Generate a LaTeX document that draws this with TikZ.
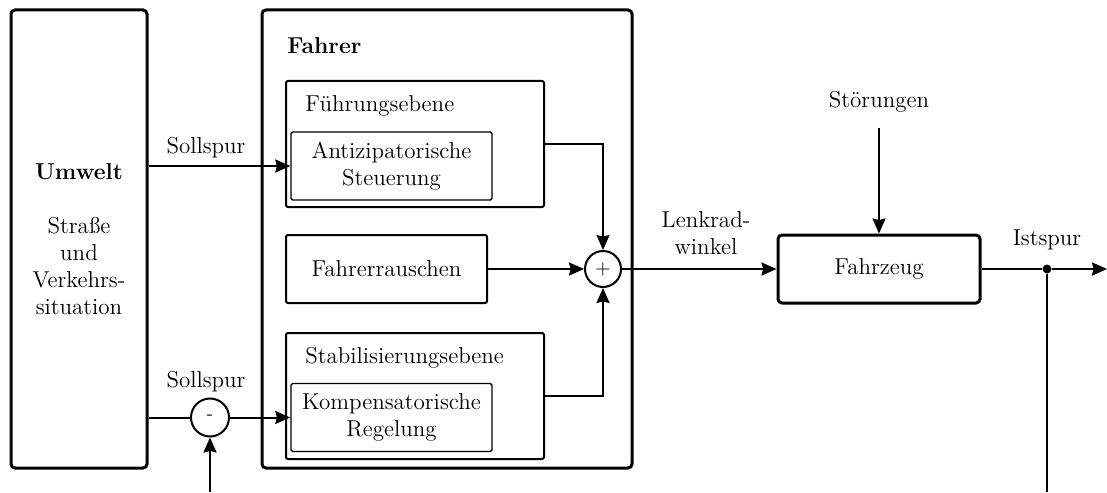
\documentclass[tikz,border=0pt]{standalone}
\usepackage{fontspec}
\usetikzlibrary{arrows.meta}
\begin{document}
\begin{tikzpicture}[x=0.5pt,y=-0.5pt,
  font=\fontsize{11.5}{13.5}\selectfont,
  outerbox/.style={draw, line width=1.5pt, rounded corners=2pt, inner sep=0pt},
  block/.style={draw, line width=1pt, rounded corners=1pt, inner sep=0pt,
    minimum width=100.5pt, minimum height=34pt, align=center},
  innerblock/.style={block, line width=0.7pt, rounded corners=0.8pt},
  levelbox/.style={draw, line width=1pt, rounded corners=1pt, inner sep=0pt,
    minimum width=129pt, minimum height=63pt},
  junction/.style={circle, draw, line width=1pt, inner sep=0pt},
  tapdot/.style={circle, fill, inner sep=0pt, minimum size=4.5pt},
  lbl/.style={inner sep=0pt, align=center},
  conn/.style={line width=1pt},
  arr/.style={conn, -{Stealth[length=7.5pt,width=6.5pt,inset=0.8pt]}},
]
\useasboundingbox (0,0) rectangle (1107,492);

% environment block
\node[outerbox, minimum width=68pt, minimum height=229pt, align=center]
  (umwelt) at (79,239)
  {\textbf{Umwelt}\\[13.5pt]Straße\\und\\Verkehrs-\\situation};

% driver block with its levels
\node[outerbox, minimum width=185pt, minimum height=229pt] (fahrer) at (447,239) {};
\node[lbl, anchor=west] (fahrerlbl) at (287,46) {\textbf{Fahrer}};

\node[levelbox] (fe) at (415,144) {};
\node[lbl, anchor=base west] (felbl) at (305,112) {Führungsebene};
\node[innerblock] (az) at (391.5,166) {Antizipatorische\\Steuerung};

\node[block] (fr) at (386.5,269) {Fahrerrauschen};

\node[levelbox] (se) at (415,396) {};
\node[lbl, anchor=base west] (selbl) at (305,363) {Stabilisierungsebene};
\node[innerblock] (kr) at (391.5,417.5) {Kompensatorische\\Regelung};

% junctions
\node[junction, minimum size=18pt] (sum) at (603,269) {\fontsize{10}{10}\selectfont +};
\node[junction, minimum size=19pt] (minus) at (210,417.5) {\fontsize{9}{9}\selectfont -};

% vehicle
\node[outerbox, minimum width=101pt, minimum height=34pt] (fz) at (879,269) {Fahrzeug};
\node[lbl, anchor=base] (stoer) at (879,107) {Störungen};
\coordinate (stoerin) at (879,128);

% labels on connectors
\node[lbl, anchor=base] (soll1) at (206,153) {Sollspur};
\node[lbl, anchor=base] (soll2) at (206,387) {Sollspur};
\node[lbl] (lenk) at (706,233) {Lenkrad-\\winkel};
\node[lbl, anchor=base] (ist) at (1047,245) {Istspur};

% output branch
\node[tapdot] (tap) at (1047,269) {};
\coordinate (outend) at (1107,269);
\coordinate (fbright) at (1047,492);
\coordinate (fbleft) at (210,492);

% connectors
\draw[arr] (umwelt.east |- az.west) -- (az.west);
\draw[conn] (umwelt.east |- minus.west) -- (minus.west);
\draw[arr] (minus.east) -- (minus.east -| kr.west);
\draw[arr] (fbleft) -- (minus.south);

\draw[arr] (fe.east) -| (sum.north);
\draw[arr] (fr.east) -- (sum.west);
\draw[arr] (se.east) -| (sum.south);

\draw[arr] (sum.east) -- (fz.west);
\draw[arr] (stoerin) -- (fz.north);
\draw[conn] (fz.east) -- (tap);
\draw[arr] (tap) -- (outend);
\draw[conn] (tap) -- (fbright);
\end{tikzpicture}
\end{document}
